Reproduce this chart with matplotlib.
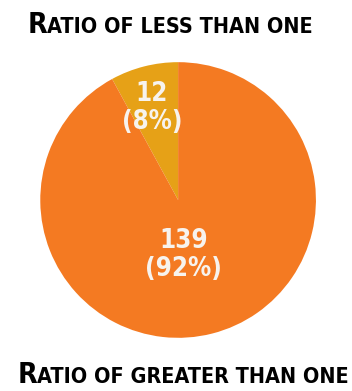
import matplotlib.pyplot as plt
from matplotlib.offsetbox import TextArea, HPacker, AnchoredOffsetbox

counts = [12, 139]
shares = [8, 92]
colors = ['#E6A117', '#F47A22']
title_top = "Ratio of less than one"
title_bottom = "Ratio of greater than one"

# label centres in pie radius units
LABEL_XY = [(-0.19, 0.67), (0.04, -0.40)]
FONT = ['Liberation Sans Narrow', 'DejaVu Sans']
TEXT_PROPS = dict(fontweight='bold', family=FONT, fontstretch='condensed')


def small_caps(fig, text, loc, x, y, big=20.5, small=15.5):
    # fake small caps: first letter big, rest upper-case smaller
    parts = [TextArea(text[0].upper(), textprops=dict(fontsize=big, **TEXT_PROPS)),
             TextArea(text[1:].upper(), textprops=dict(fontsize=small, **TEXT_PROPS))]
    box = HPacker(children=parts, align='baseline', pad=0, sep=0)
    anch = AnchoredOffsetbox(loc=loc, child=box, frameon=False, pad=0, borderpad=0,
                             bbox_to_anchor=(x, y), bbox_transform=fig.transFigure)
    fig.add_artist(anch)


fig = plt.figure(figsize=(3.52, 3.91), dpi=100)
ax = fig.add_axes([0.114, 0.136, 0.784, 0.705])
wedges, _ = ax.pie(counts, colors=colors, startangle=90, counterclock=True,
                   wedgeprops=dict(linewidth=0))
ax.set_xlim(-1, 1)
ax.set_ylim(-1, 1)
ax.set_aspect('equal')

for (x, y), c, s in zip(LABEL_XY, counts, shares):
    ax.text(x, y, '{}\n({}%)'.format(c, s), ha='center', va='center',
            color='#F7F3EE', fontsize=18.5, linespacing=1.1, **TEXT_PROPS)

small_caps(fig, title_top, 'upper center', 0.483, 0.972)
small_caps(fig, title_bottom, 'lower center', 0.52, 0.005)

fig.savefig('out.png', dpi=100)
